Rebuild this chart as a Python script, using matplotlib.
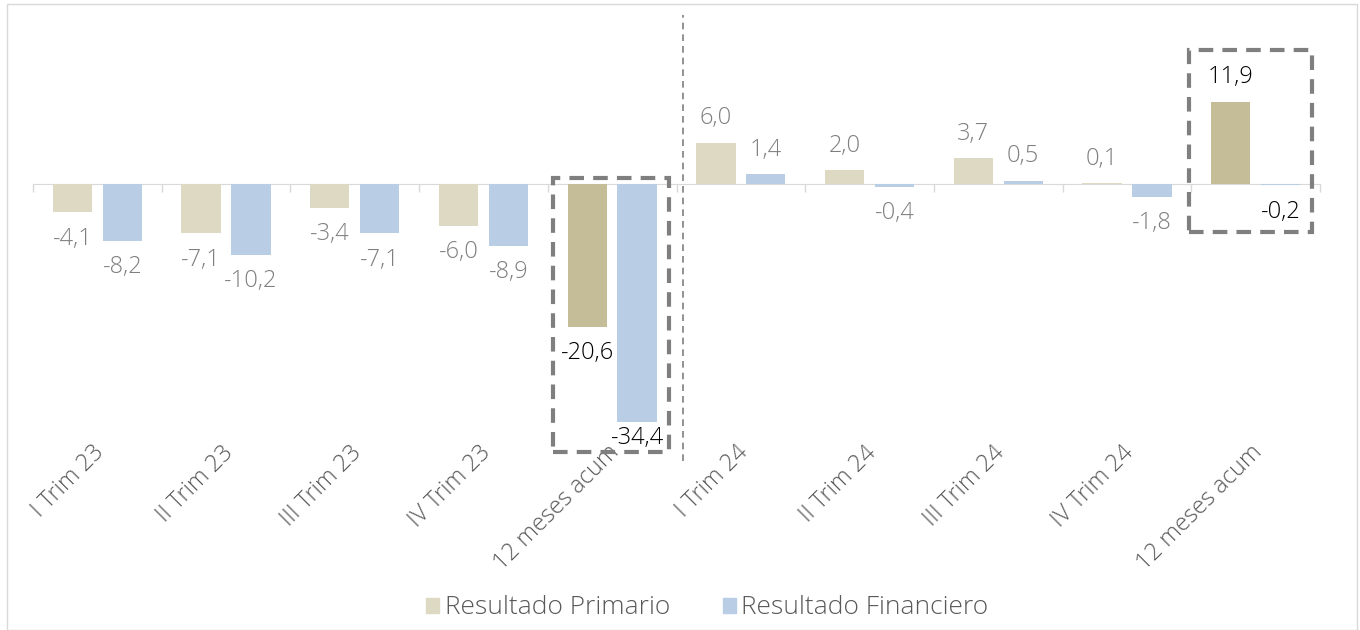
import numpy as np
import matplotlib.pyplot as plt
from matplotlib.patches import Rectangle
import matplotlib.transforms as mtransforms

# datos (miles de millones, aprox.)
categorias = ["I Trim 23", "II Trim 23", "III Trim 23", "IV Trim 23", "12 meses acum",
              "I Trim 24", "II Trim 24", "III Trim 24", "IV Trim 24", "12 meses acum"]
primario = [-4.1, -7.1, -3.4, -6.0, -20.6, 6.0, 2.0, 3.7, 0.1, 11.9]
financiero = [-8.2, -10.2, -7.1, -8.9, -34.4, 1.4, -0.4, 0.5, -1.8, -0.2]
acumulados = [4, 9]

c_prim = "#DDD9C3"
c_prim_acum = "#C4BD97"
c_fin = "#B9CDE5"
gris_txt = "#7F7F7F"
fuente = "Open Sans"

plt.rcParams['font.family'] = [fuente, 'DejaVu Sans']

fig = plt.figure(figsize=(13.6, 6.3), dpi=100)
ax = fig.add_axes([33/1360, 1 - 461/630, (1320-33)/1360, 450/630])

x = np.arange(len(categorias))
w = 0.305
off = 0.194

col_p = [c_prim_acum if i in acumulados else c_prim for i in x]
ax.bar(x - off, primario, w, color=col_p, zorder=2)
ax.bar(x + off, financiero, w, color=c_fin, zorder=2)

ax.set_xlim(-0.5, 9.5)
ax.set_ylim(-40, 25)

# etiquetas de datos
for serie, dx in [(primario, -off), (financiero, off)]:
    for i, v in enumerate(serie):
        col = "black" if i in acumulados else gris_txt
        dy = 17.5 if v >= 0 else -19
        if v < -30:
            dy = -11
        txt = f"{v:.1f}".replace(".", ",")
        ax.annotate(txt, (i + dx, v), xytext=(0, dy), textcoords="offset points",
                    ha="center", va="center", fontsize=17, color=col, zorder=4,
                    fontweight="light")

# eje en cero
for s in ["top", "right", "left"]:
    ax.spines[s].set_visible(False)
ax.spines["bottom"].set_position(("data", 0))
ax.spines["bottom"].set_color("#D9D9D9")
ax.spines["bottom"].set_zorder(1)
ax.set_yticks([])
ax.set_xticks(np.arange(-0.5, 10, 1))
ax.set_xticklabels([])
ax.tick_params(axis="x", length=6, color="#D9D9D9", width=1)

# etiquetas de categorias
trans = mtransforms.blended_transform_factory(ax.transData, ax.transAxes)
for i, lab in enumerate(categorias):
    ax.text(i - 0.04, 0.045, lab, transform=trans, rotation=45, rotation_mode="anchor",
            ha="right", va="top", fontsize=17, color="#595959", fontweight="light")

# linea divisoria
ax.plot([4.55, 4.55], [-40, 24.4], ls=(0, (4, 3)), color="#7F7F7F", lw=1.2, clip_on=False, zorder=1)

# recuadros punteados
for (x0, x1, y0, y1) in [(3.54, 4.44, -38.7, 0.87), (8.48, 9.44, -6.9, 19.4)]:
    ax.add_patch(Rectangle((x0, y0), x1 - x0, y1 - y0, fill=False, ec="#7F7F7F",
                           lw=3, ls=(0, (3.5, 2.2)), clip_on=False, zorder=3))

# leyenda
h1 = Rectangle((0, 0), 1, 1, color=c_prim)
h2 = Rectangle((0, 0), 1, 1, color=c_fin)
leg = fig.legend([h1, h2], ["Resultado Primario", "Resultado Financiero"], loc="center",
                 bbox_to_anchor=(0.52, 0.035), ncol=2, frameon=False,
                 prop={"size": 19, "weight": "light"},
                 handlelength=0.5, handleheight=0.5, handletextpad=0.2, columnspacing=2.0)
for t in leg.get_texts():
    t.set_color("#595959")

# marco
fig.patches.append(Rectangle((7/1360, 0), 1350/1360, 626/630, transform=fig.transFigure,
                             fill=False, ec="#D9D9D9", lw=1))

fig.savefig("out.png", dpi=100)
